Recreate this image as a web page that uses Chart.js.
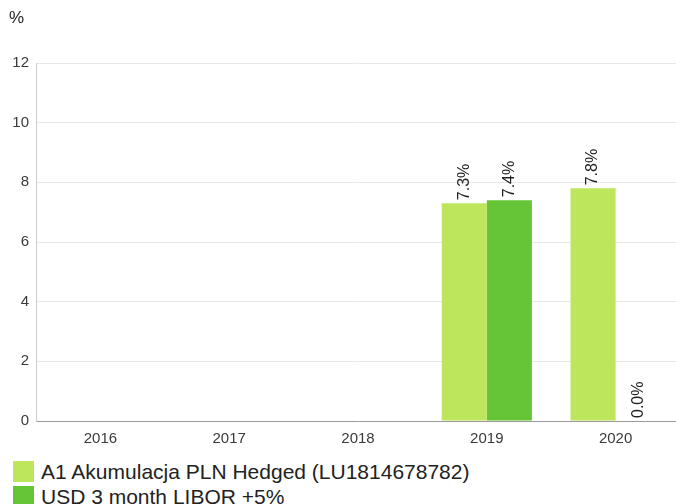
<!DOCTYPE html>
<html>
<head>
<meta charset="utf-8">
<script src="https://cdn.jsdelivr.net/npm/chart.js@4"></script>
<style>
  html, body { margin: 0; padding: 0; background: #fff; overflow: hidden; }
  #wrap { position: relative; width: 676px; height: 504px; overflow: hidden; font-family: "Liberation Sans", Arial, sans-serif; }
  #chart { position: absolute; left: 0; top: 0; }
  #legend { position: absolute; left: 13px; top: 459px; }
  .item { display: flex; align-items: center; height: 25px; font-size: 21px; color: #222; }
  .box { width: 21px; height: 21px; margin-right: 7px; flex: none; }
</style>
</head>
<body>
<div id="wrap">
  <canvas id="chart" width="680" height="448"></canvas>
  <div id="legend"></div>
</div>
<script>
const years = ['2016', '2017', '2018', '2019', '2020'];
const fundReturns = [null, null, null, 7.3, 7.8];
const benchmarkReturns = [null, null, null, 7.4, 0.0];
const seriesNames = ['A1 Akumulacja PLN Hedged (LU1814678782)', 'USD 3 month LIBOR +5%'];
const seriesColors = ['#BDE65C', '#66C536'];
const yTicks = [0, 2, 4, 6, 8, 10, 12];
const FONT = '"Liberation Sans", Arial, sans-serif';

// rotated value labels above each bar, plus the "%" unit in the corner
const barLabels = {
  id: 'barLabels',
  afterDatasetsDraw(chart) {
    const { ctx } = chart;
    ctx.save();
    ctx.fillStyle = '#222';
    ctx.font = '16px ' + FONT;
    ctx.textAlign = 'left';
    ctx.textBaseline = 'middle';
    chart.data.datasets.forEach((ds, di) => {
      chart.getDatasetMeta(di).data.forEach((bar, i) => {
        const v = ds.data[i];
        if (v === null || v === undefined) return;
        ctx.save();
        ctx.translate(bar.x, bar.y - 3);
        ctx.rotate(-Math.PI / 2);
        ctx.fillText(v.toFixed(1) + '%', 0, 0);
        ctx.restore();
      });
    });
    ctx.font = '17px ' + FONT;
    ctx.fillText('%', 9, 18);
    ctx.restore();
  }
};

new Chart(document.getElementById('chart').getContext('2d'), {
  type: 'bar',
  data: {
    labels: years,
    datasets: [
      { label: seriesNames[0], data: fundReturns, backgroundColor: seriesColors[0] },
      { label: seriesNames[1], data: benchmarkReturns, backgroundColor: seriesColors[1] }
    ]
  },
  options: {
    responsive: false,
    animation: false,
    layout: { padding: { top: 63, right: 0, left: 0, bottom: 0 } },
    datasets: { bar: { categoryPercentage: 0.7, barPercentage: 1.0 } },
    scales: {
      x: {
        grid: { display: false },
        border: { color: '#999' },
        ticks: { color: '#3a3a3a', font: { size: 15, family: FONT }, padding: 1 },
        afterFit(scale) { scale.height = 27; }
      },
      y: {
        min: 0,
        max: 12,
        afterBuildTicks(scale) { scale.ticks = yTicks.map(v => ({ value: v })); },
        grid: { color: '#e8e8e8', drawTicks: false },
        border: { color: '#ccc' },
        ticks: { color: '#3a3a3a', font: { size: 15, family: FONT }, padding: 7 },
        afterFit(scale) { scale.width = 36; }
      }
    },
    plugins: {
      legend: { display: false },
      tooltip: { enabled: false }
    }
  },
  plugins: [barLabels]
});

document.getElementById('legend').innerHTML = seriesNames.map((name, i) =>
  `<div class="item"><span class="box" style="background:${seriesColors[i]}"></span>${name}</div>`
).join('');
</script>
</body>
</html>
